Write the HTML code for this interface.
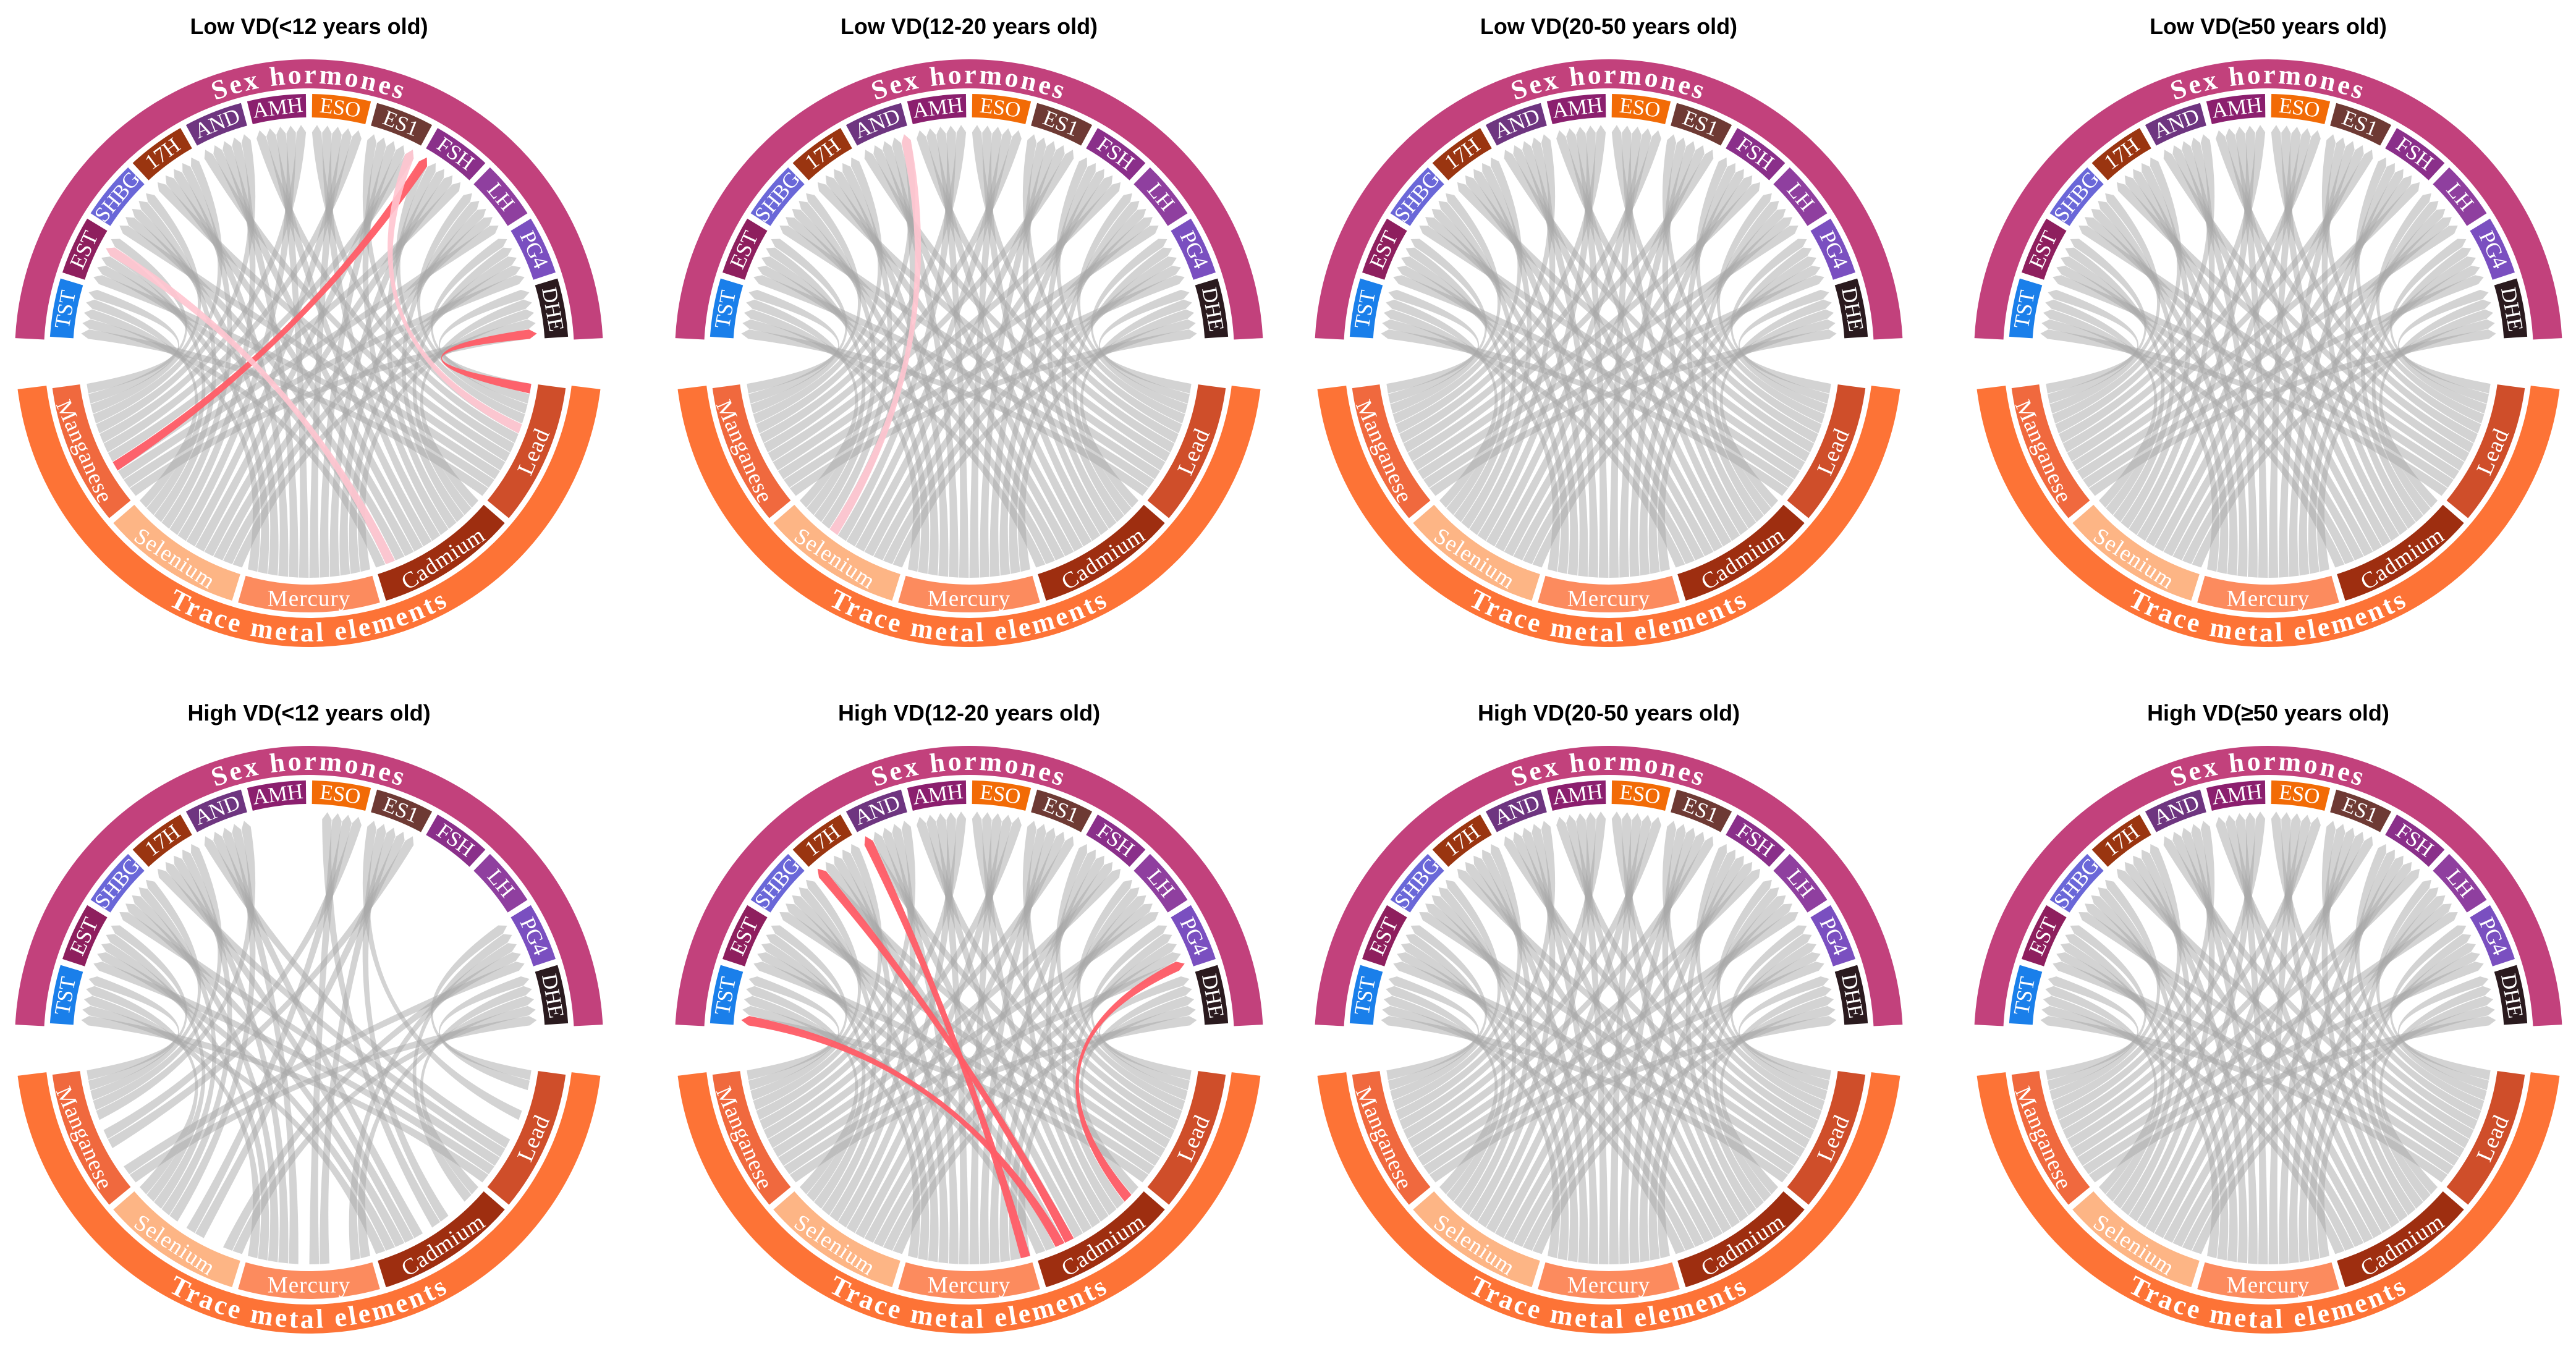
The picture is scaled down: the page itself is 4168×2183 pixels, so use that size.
<!DOCTYPE html>
<html><head><meta charset="utf-8">
<style>
html,body{margin:0;padding:0;background:#fff;}
svg{display:block;}
.title{font-family:"Liberation Sans",sans-serif;font-weight:bold;font-size:36px;fill:#000;}
.lab{font-family:"Liberation Serif",serif;font-size:35px;fill:#fff;}
.mlab{font-family:"Liberation Serif",serif;font-size:37px;fill:#fff;letter-spacing:1px;}
.grp{font-family:"Liberation Serif",serif;font-weight:bold;font-size:44px;fill:#fff;letter-spacing:4px;}
</style></head>
<body>
<svg id="chart" width="4168" height="2183" viewBox="0 0 4168 2183" xmlns="http://www.w3.org/2000/svg"></svg>
<script>
const hormones = ["TST","EST","SHBG","17H","AND","AMH","ESO","ES1","FSH","LH","PG4","DHE"];
const hormoneColors = ["#1a7fea","#8e1f5e","#6a67d8","#9a3510","#6e3580","#8b1f6e","#f26b06","#6e3a34","#8a2f8a","#8f3f9f","#7a4fc0","#2a1a1e"];
const metals = ["Manganese","Selenium","Mercury","Cadmium","Lead"];
const metalColors = ["#f0693e","#fdb585","#fc8b5e","#9e2e10","#cf4e2a"];
const titles = ["Low VD(<12 years old)","Low VD(12-20 years old)","Low VD(20-50 years old)","Low VD(\u226550 years old)",
                "High VD(<12 years old)","High VD(12-20 years old)","High VD(20-50 years old)","High VD(\u226550 years old)"];
const absentHormones = [[],[],[],[],["AMH","FSH","LH"],[],[],[]];
const absentPairs = [[],[],[],[],[["ESO","Lead"]],[],[],[]];
const hlPanel = [0,0,0,0,1,5,5,5,5];
const hlHormone = ["FSH","EST","ES1","DHE","AND","TST","17H","AND","PG4"];
const hlMetal = ["Manganese","Cadmium","Lead","Lead","Selenium","Cadmium","Cadmium","Mercury","Cadmium"];
const hlHSlot = [0,3,4,4,4,0,0,0,4];
const hlMSlot = [8,1,7,11,4,2,3,11,10];
const hlKind = ["red","pink","pink","red","pink","red","red","red","red"];

const NS="http://www.w3.org/2000/svg";
const svg=document.getElementById("chart");
const panelCX=[500,1568,2603,3670], panelCY=[572,1683];
const TOP0=177, TOP1=3, BOT0=-173, BOT1=-7, GAP=1.4;
const rad=d=>d*Math.PI/180;
function mk(tag,attrs,parent){const e=document.createElementNS(NS,tag);for(const k in attrs)e.setAttribute(k,attrs[k]);(parent||svg).appendChild(e);return e;}
function P(cx,cy,a,r){return [cx+r*Math.cos(rad(a)), cy-r*Math.sin(rad(a))];}
function annulus(cx,cy,r0,r1,a0,a1){
  const large=(a0-a1)>180?1:0;
  const p1=P(cx,cy,a0,r1),p2=P(cx,cy,a1,r1),p3=P(cx,cy,a1,r0),p4=P(cx,cy,a0,r0);
  return `M${p1} A${r1} ${r1} 0 ${large} 1 ${p2} L${p3} A${r0} ${r0} 0 ${large} 0 ${p4} Z`;
}
const nH=hormones.length,nM=metals.length;
const hSpan=(TOP0-TOP1)/nH, mSpan=(BOT1-BOT0)/nM;
function hSlot(i,s){
  const a0=TOP0-i*hSpan-GAP/2, w=(hSpan-GAP)/nM;
  return [a0-s*w-0.08, a0-(s+1)*w+0.08];
}
function mSlot(j,s){
  const a0=BOT0+j*mSpan+GAP/2, w=(mSpan-GAP)/nH;
  return [a0+(s+1)*w-0.08, a0+s*w+0.08];
}
function chordPath(cx,cy,ha,ma){
  const rb=358, rt=370, rm=363;
  const h1=P(cx,cy,ha[0],rb), ht=P(cx,cy,(ha[0]+ha[1])/2,rt), h2=P(cx,cy,ha[1],rb);
  const m1=P(cx,cy,ma[0],rm), m2=P(cx,cy,ma[1],rm);
  const k=0.1;
  const c1=[cx+k*(h2[0]+m1[0]-2*cx), cy+k*(h2[1]+m1[1]-2*cy)];
  const c2=[cx+k*(h1[0]+m2[0]-2*cx), cy+k*(h1[1]+m2[1]-2*cy)];
  return `M${h1} L${ht} L${h2} Q${c1} ${m1} L${m2} Q${c2} ${h1} Z`;
}

for(let p=0;p<8;p++){
  const cx=panelCX[p%4], cy=panelCY[Math.floor(p/4)];
  const g=mk("g",{});
  
  
  const t=mk("text",{x:cx,y:cy-517,"text-anchor":"middle",class:"title"},g);
  
  
  t.textContent=titles[p];
  const ob=mk("path",{d:annulus(cx,cy,429,476,TOP0,TOP1),fill:"#c2417c"},g);
  
  
  const bb=mk("path",{d:annulus(cx,cy,428,475,BOT1,BOT0),fill:"#fd7336"},g);
  
  
  const a1=P(cx,cy,170,437),a2=P(cx,cy,10,437);
  mk("path",{id:"topArc"+p,d:`M${a1} A437 437 0 0 1 ${a2}`,fill:"none"},g);
  const b1=P(cx,cy,-170,466),b2=P(cx,cy,-10,466);
  mk("path",{id:"botArc"+p,d:`M${b1} A466 466 0 0 0 ${b2}`,fill:"none"},g);
  const gt=mk("text",{class:"grp","text-anchor":"middle"},g);
  
  
  const tp=mk("textPath",{href:"#topArc"+p,startOffset:"50%"},gt);tp.textContent="Sex hormones";
  const gb=mk("text",{class:"grp","text-anchor":"middle"},g);
  
  
  const tp2=mk("textPath",{href:"#botArc"+p,startOffset:"50%"},gb);tp2.textContent="Trace metal elements";
  hormones.forEach((h,i)=>{
    const a0=TOP0-i*hSpan-GAP/2, a1=TOP0-(i+1)*hSpan+GAP/2;
    const s=mk("path",{d:annulus(cx,cy,382,420,a0,a1),fill:hormoneColors[i]},g);
    
    
    const am=(a0+a1)/2, pt=P(cx,cy,am,401);
    const tx=mk("text",{x:pt[0],y:pt[1],"text-anchor":"middle","dominant-baseline":"central",class:"lab",transform:`rotate(${90-am} ${pt[0]} ${pt[1]})`},g);
    
    
    tx.textContent=h;
  });
  metals.forEach((m,j)=>{
    const a0=BOT0+j*mSpan+GAP/2, a1=BOT0+(j+1)*mSpan-GAP/2;
    const s=mk("path",{d:annulus(cx,cy,374,419,a1,a0),fill:metalColors[j]},g);
    
    
    const am=(a0+a1)/2, pt=P(cx,cy,am,397);
    const tx=mk("text",{x:pt[0],y:pt[1],"text-anchor":"middle","dominant-baseline":"central",class:"mlab",transform:`rotate(${-(90+am)} ${pt[0]} ${pt[1]})`},g);
    
    
    tx.textContent=m;
  });
  hormones.forEach((h,i)=>{
    if(absentHormones[p].includes(h))return;
    metals.forEach((m,j)=>{
      if(absentPairs[p].some(q=>q[0]===h&&q[1]===m))return;
      const ha=hSlot(i,nM-1-j), ma=mSlot(j,i);
      const c=mk("path",{d:chordPath(cx,cy,ha,ma),fill:"#a8a8a8","fill-opacity":"0.5"},g);
      
      
    });
  });
  for(let k=0;k<hlPanel.length;k++){
    if(hlPanel[k]!==p)continue;
    const i=hormones.indexOf(hlHormone[k]), j=metals.indexOf(hlMetal[k]);
    const ha=hSlot(i,hlHSlot[k]), ma=mSlot(j,hlMSlot[k]);
    const red=hlKind[k]==="red";
    const c=mk("path",{d:chordPath(cx,cy,ha,ma),fill:red?"#ff5c66":"#ffc4cf","fill-opacity":red?"0.95":"0.9"},g);
    
    
  }
}
</script>
</body></html>
